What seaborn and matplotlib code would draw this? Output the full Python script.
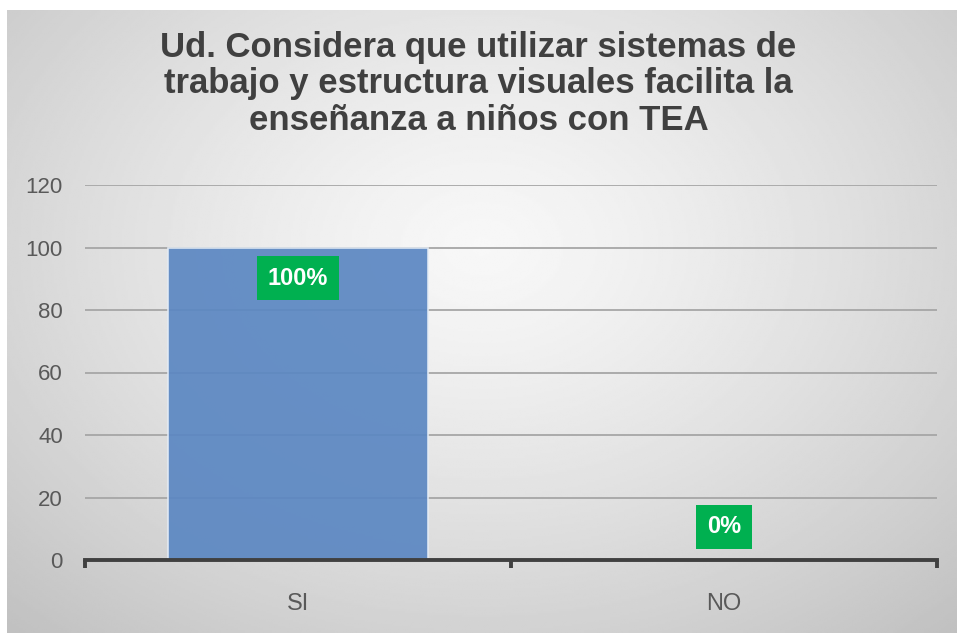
import numpy as np
import pandas as pd
import matplotlib
matplotlib.use("Agg")
import matplotlib.pyplot as plt
import seaborn as sns

categories = ["SI", "NO"]
values = [100, 0]
labels = ["100%", "0%"]
yticks = [0, 20, 40, 60, 80, 100, 120]
title = ("Ud. Considera que utilizar sistemas de\n"
         "trabajo y estructura visuales facilita la\n"
         "enseñanza a niños con TEA")

sns.set_style("white")
plt.rcParams["font.family"] = ["Liberation Sans", "DejaVu Sans"]

W, H = 957, 633
fig = plt.figure(figsize=(W / 100, H / 100), dpi=100)
fig.patch.set_facecolor("white")

# radial grey gradient background (Excel style)
bg = fig.add_axes([7 / W, 0, 1 - 7 / W, 1 - 10 / H])
yy, xx = np.mgrid[0:1:300j, 0:1:450j]
r = np.sqrt(((xx - 0.5) / 0.75) ** 2 + ((yy - 0.62) / 0.85) ** 2)
shade = 0.97 - 0.22 * np.clip(r, 0, 1) ** 1.3
bg.imshow(shade, cmap="gray", vmin=0, vmax=1, aspect="auto", origin="lower",
          extent=[0, 1, 0, 1])
bg.set_axis_off()

ax = fig.add_axes([85 / W, (H - 560) / H, (937 - 85) / W, (560 - 185) / H])
ax.patch.set_alpha(0)

df = pd.DataFrame({"cat": categories, "val": values})
ax.yaxis.grid(True, color="#a6a6a6", linewidth=1.3, zorder=0)
ax.set_axisbelow(True)
sns.barplot(data=df, x="cat", y="val", ax=ax, color="#5b87c2", width=0.61,
            edgecolor="#e4ecf6", linewidth=1.2, alpha=0.92, saturation=1, zorder=2)

ax.set_xlim(-0.5, 1.5)
ax.set_ylim(0, 120)
ax.set_yticks(yticks)
ax.set_xlabel("")
ax.set_ylabel("")
ax.tick_params(axis="y", length=0, pad=16, labelsize=16, labelcolor="#595959")
ax.tick_params(axis="x", length=0, pad=24, labelsize=17, labelcolor="#595959")
for s in ["top", "right", "left"]:
    ax.spines[s].set_visible(False)
ax.spines["bottom"].set_color("#404040")
ax.spines["bottom"].set_linewidth(2.8)
ax.spines["bottom"].set_zorder(5)

# category boundary ticks on the x axis
for xb in [-0.5, 0.5, 1.5]:
    ax.plot([xb, xb], [0, -2.6], color="#404040", linewidth=2.8,
            clip_on=False, zorder=5, solid_capstyle="butt")

for i, (v, lab) in enumerate(zip(values, labels)):
    off = -22 if v > 0 else 24
    ax.annotate(lab, xy=(i, v), xytext=(0, off), textcoords="offset points",
                ha="center", va="center", fontsize=17, fontweight="bold",
                color="white", zorder=6,
                bbox=dict(boxstyle="square,pad=0.45", facecolor="#00b050",
                          edgecolor="none"))

fig.text(0.5, 1 - 84 / H, title, ha="center", va="center", fontsize=25,
         fontweight="bold", color="#404040", linespacing=1.15)

fig.savefig("out.png", dpi=100)
